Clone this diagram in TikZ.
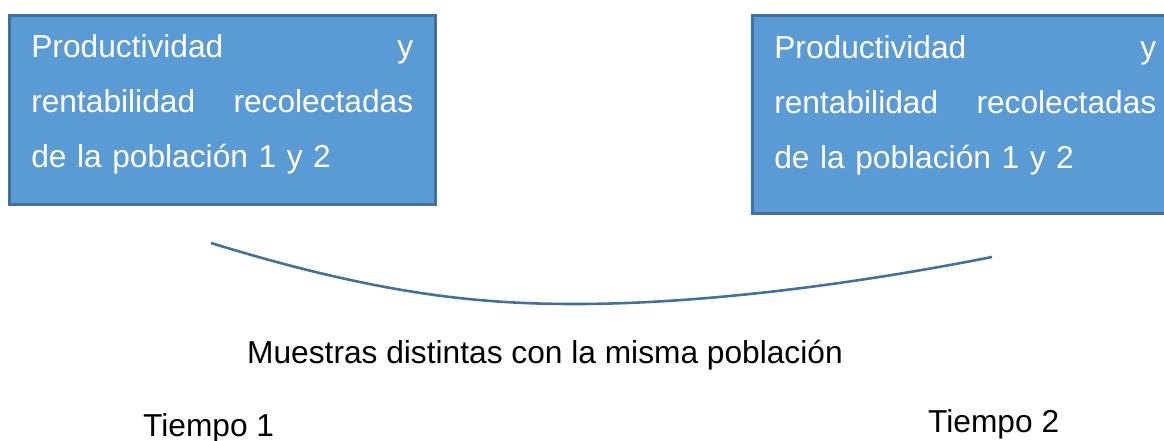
\documentclass[tikz,border=0pt]{standalone}
\usepackage{fontspec}
\setmainfont{Liberation Sans}
\definecolor{azul}{HTML}{5B9BD5}
\definecolor{borde}{HTML}{41719C}

\begin{document}
\begin{tikzpicture}[x=1pt, y=-1pt, font=\fontsize{31.7}{55}\selectfont]

\tikzset{
  caja/.style={draw=borde, fill=azul, line width=2.6pt, text=white, anchor=north west,
    inner xsep=22pt, inner ysep=0pt, text width=382pt, align=left},
  curva/.style={draw=borde, line width=2.6pt},
  etiq/.style={anchor=base west, inner sep=0pt}
}

\useasboundingbox (0,0) rectangle (1164,441);

% --- Cajas (coordenadas fijas) ---
\node[caja, text height=42pt, text depth=147pt] (pob1) at (8,14)
  {Productividad\hfill y\\ rentabilidad\hfill recolectadas\\ de la población 1 y 2};
\node[caja, text height=43pt, text depth=155pt] (pob2) at (751,14)
  {Productividad\hfill y\\ rentabilidad\hfill recolectadas\\ de la población 1 y 2};

% --- Curva que une las dos muestras ---
\coordinate (ini) at (211,243);
\coordinate (fondo) at (575,304);
\coordinate (fin) at (992,257);
\draw[curva] (ini) .. controls (380,295) and (480,304) .. (fondo)
  .. controls (700,304) and (850,285) .. (fin);

% --- Textos ---
\node[etiq] (muestras) at (247,363) {Muestras distintas con la misma población};
\node[etiq] (tiempo1) at (143,436) {Tiempo 1};
\node[etiq] (tiempo2) at (928,432) {Tiempo 2};

\end{tikzpicture}
\end{document}
